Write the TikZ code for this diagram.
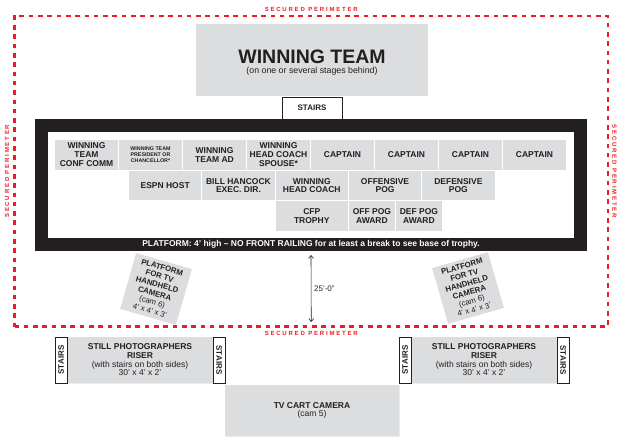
\documentclass[tikz,border=0pt]{standalone}
\usepackage{fontspec}
\setmainfont{Liberation Sans}
\newfontfamily\perimfont[LetterSpace=30]{Liberation Sans}
\usepackage{xcolor}
\usepackage{tikz}
\usetikzlibrary{positioning, calc, shadows, arrows.meta}

\definecolor{boxgray}{RGB}{220,221,223}
\definecolor{inkblack}{RGB}{35,31,32}
\definecolor{perimred}{RGB}{237,28,36}
\newcommand{\setfs}[2]{\fontsize{#1}{#2}\selectfont}

\begin{document}
\begin{tikzpicture}[
   x=1pt, y=-1pt,
   node distance = 1pt,
   every node/.style = {inner sep=0pt, outer sep=0pt, text=inkblack},
   graybox/.style = {fill=boxgray, minimum height=29.5pt, align=center, font=\bfseries\setfs{8.5}{8.7}},
   rowone/.style = {graybox, minimum width=63pt},
   rowtwo/.style = {graybox, minimum width=72.3pt},
   stairbox/.style = {draw=inkblack, fill=white, line width=0.9pt, font=\bfseries\setfs{8}{8}},
   camplat/.style = {fill=boxgray, minimum width=58pt, minimum height=58pt, align=center, font=\setfs{7.8}{9}},
   riser/.style = {fill=boxgray, minimum width=146pt, minimum height=46pt, align=center, font=\setfs{8.5}{8.7},
                   drop shadow={opacity=0.15, shadow xshift=0.8pt, shadow yshift=-0.8pt}},
   perimeter/.style = {draw=perimred, line width=2.8pt, dash pattern=on 4.6pt off 4.7pt},
   perimlabel/.style = {text=perimred, font=\perimfont\bfseries\setfs{6}{6}},
   line/.style = {draw=inkblack, {Straight Barb[length=3pt,width=5pt]}-{Straight Barb[length=3pt,width=5pt]}, line width=0.6pt}
   ]
  \useasboundingbox (0,0) rectangle (617,436);

  % Secured perimeter
  \node[perimeter, minimum width=593.5pt, minimum height=310.5pt] (perim) at (311.25,171.25) {};
  \node[perimlabel, above=4pt of perim.north] (perimtop) {SECURED PERIMETER};
  \node[perimlabel, below=4.5pt of perim.south] (perimbottom) {SECURED PERIMETER};
  \node[perimlabel, rotate=90] (perimleft) at ($(perim.west)+(-7.5,0)$) {SECURED PERIMETER};
  \node[perimlabel, rotate=-90] (perimright) at ($(perim.east)+(6.5,0)$) {SECURED PERIMETER};

  % Winning team box
  \node[fill=boxgray, minimum width=232pt, minimum height=72pt] (winteam) at (312,60) {};
  \node[font=\bfseries\setfs{19.5}{20}] (wintitle) at (312,57) {WINNING TEAM};
  \node[font=\setfs{8.8}{9}, below=3.5pt of wintitle] (winsub) {(on one or several stages behind)};

  % Platform
  \node[draw=inkblack, line width=13pt, minimum width=539pt, minimum height=119pt] (platform) at (311,185) {};
  \node[text=white, font=\bfseries\setfs{8.5}{8.5}] (platnote) at (platform.south)
   {PLATFORM: 4' high -- NO FRONT RAILING for at least a break to see base of trophy.};
  \node[stairbox, minimum width=60pt, minimum height=22pt] (topstairs) at (312,108) {STAIRS};

  % First row
  \node[rowone, anchor=north west] (confcomm) at (55,140) {WINNING\\TEAM\\CONF COMM};
  \node[rowone, right=of confcomm, font=\bfseries\setfs{5.3}{6.2}] (president) {WINNING TEAM\\PRESIDENT OR\\CHANCELLOR*};
  \node[rowone, right=of president] (teamad) {WINNING\\TEAM AD};
  \node[rowone, right=of teamad] (spouse) {WINNING\\HEAD COACH\\SPOUSE*};
  \node[rowone, right=of spouse] (captaina) {CAPTAIN};
  \node[rowone, right=of captaina] (captainb) {CAPTAIN};
  \node[rowone, right=of captainb] (captainc) {CAPTAIN};
  \node[rowone, right=of captainc] (captaind) {CAPTAIN};

  % Second row
  \node[rowtwo, anchor=north west] (espn) at (129,170.8) {ESPN HOST};
  \node[rowtwo, right=of espn] (execdir) {BILL HANCOCK\\EXEC. DIR.};
  \node[rowtwo, right=of execdir] (headcoach) {WINNING\\HEAD COACH};
  \node[rowtwo, right=of headcoach] (offpog) {OFFENSIVE\\POG};
  \node[rowtwo, right=of offpog] (defpog) {DEFENSIVE\\POG};

  % Third row
  \node[rowtwo, below=of headcoach] (trophy) {CFP\\TROPHY};
  \node[graybox, minimum width=46pt, right=of trophy] (offaward) {OFF POG\\AWARD};
  \node[graybox, minimum width=46pt, right=of offaward] (defaward) {DEF POG\\AWARD};

  % Handheld camera platforms
  \node[camplat, rotate=-16] (camleft) at (156,289)
   {\textbf{PLATFORM}\\\textbf{FOR TV}\\\textbf{HANDHELD}\\\textbf{CAMERA}\\(cam 6)\\4' x 4' x 3'};
  \node[camplat, rotate=16] (camright) at (468,288)
   {\textbf{PLATFORM}\\\textbf{FOR TV}\\\textbf{HANDHELD}\\\textbf{CAMERA}\\(cam 6)\\4' x 4' x 3'};

  % Distance to perimeter
  \coordinate (dimtop) at ($(platform.south)+(0,10.5)$);
  \coordinate (dimbot) at ($(perim.south)+(0,-4.5)$);
  \draw[line] (dimtop) -- node[right=3pt, font=\setfs{8}{8}] (dimlabel) {25'-0''} (dimbot);

  % Still photographers risers
  \node[riser] (riserleft) at (140,360)
   {\textbf{STILL PHOTOGRAPHERS}\\\textbf{RISER}\\(with stairs on both sides)\\30' x 4' x 2'};
  \node[stairbox, rotate=90, minimum width=46pt, minimum height=12pt, anchor=south] (stairsla) at (riserleft.west) {STAIRS};
  \node[stairbox, rotate=-90, minimum width=46pt, minimum height=12pt, anchor=south] (stairslb) at (riserleft.east) {STAIRS};
  \node[riser] (riserright) at (484,360)
   {\textbf{STILL PHOTOGRAPHERS}\\\textbf{RISER}\\(with stairs on both sides)\\30' x 4' x 2'};
  \node[stairbox, rotate=90, minimum width=46pt, minimum height=12pt, anchor=south] (stairsra) at (riserright.west) {STAIRS};
  \node[stairbox, rotate=-90, minimum width=46pt, minimum height=12pt, anchor=south] (stairsrb) at (riserright.east) {STAIRS};

  % TV cart camera
  \node[riser, minimum width=174pt, minimum height=51pt, anchor=north] (tvcart) at (312,385)
   {\textbf{TV CART CAMERA}\\(cam 5)};
\end{tikzpicture}
\end{document}
